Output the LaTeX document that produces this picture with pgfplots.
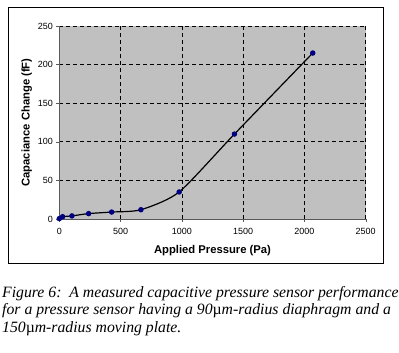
\documentclass[border=0pt]{standalone}
\usepackage{pgfplots}
\pgfplotsset{compat=1.18}
\usepackage{fontspec}
\setmainfont{Liberation Sans}
\newfontfamily\capfont{Liberation Serif}
\definecolor{plotgray}{RGB}{192,192,192}
\definecolor{navyblue}{RGB}{0,0,128}
\begin{document}
\begin{tikzpicture}[x=1bp,y=1bp]
\useasboundingbox (0,0) rectangle (399,353);
\draw[black, line width=0.8bp] (8.3,90) rectangle (383.3,346);
\begin{axis}[
  at={(59.3bp,134bp)}, anchor=south west,
  scale only axis, width=306.4bp, height=193bp,
  xmin=0, xmax=2500, ymin=0, ymax=250,
  xtick={0,500,...,2500}, ytick={0,50,...,250},
  axis lines*=left,
  axis line style={gray!70!black, line width=0.4bp},
  axis background/.style={fill=plotgray},
  grid=major,
  major grid style={black, dash pattern=on 4bp off 3bp, line width=0.6bp},
  tick style={gray!70!black, line width=0.4bp},
  tick align=outside, major tick length=3bp,
  ticklabel style={font=\fontsize{9}{10}\selectfont},
  xticklabel style={yshift=-3bp},
  /pgf/number format/assume math mode=true,
  /pgf/number format/1000 sep={},
  xlabel={\bfseries Applied Pressure (Pa)},
  ylabel={\bfseries Capaciance Change (fF)},
  xlabel style={font=\fontsize{11.3}{12}\selectfont, at={(axis description cs:0.5,0)}, anchor=base, yshift=-35bp},
  ylabel style={font=\fontsize{11.3}{12}\selectfont, yshift=-1bp},
  clip=false,
]
\addplot[black, line width=1.2bp, smooth, tension=0.4, mark=*, mark size=2.1bp,
  mark options={fill=navyblue, draw=navyblue}]
coordinates {
(0,0.5) (27,3) (103,4) (239,7) (427,9) (666,12) (978,35) (1429,110) (2068,215)
};
\end{axis}
\begin{scope}[font=\capfont\itshape\fontsize{15.8}{17}\selectfont]
\node[anchor=base west, inner sep=0] at (2,56) {Figure 6:\ \ A measured capacitive pressure sensor performance};
\node[anchor=base west, inner sep=0] at (2,39) {for a pressure sensor having a 90{\upshape\textmu}m-radius diaphragm and a};
\node[anchor=base west, inner sep=0] at (2,21) {150{\upshape\textmu}m-radius moving plate.};
\end{scope}
\end{tikzpicture}
\end{document}
